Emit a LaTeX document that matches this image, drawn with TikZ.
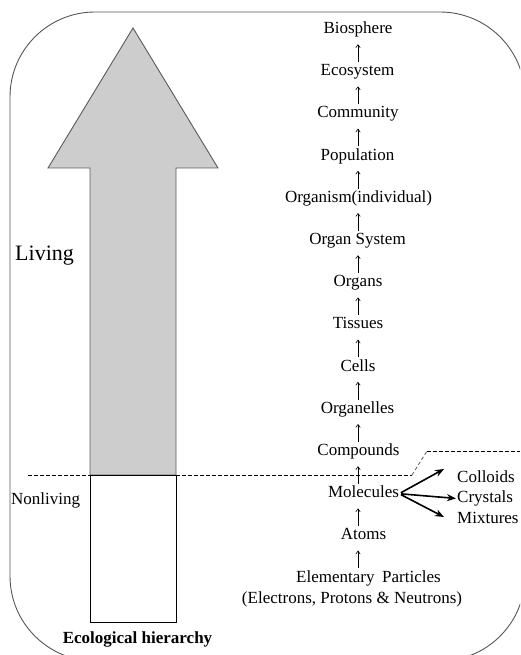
\documentclass[tikz,border=0pt]{standalone}
\usepackage{fontspec}
\setmainfont{Liberation Serif}
\usetikzlibrary{arrows.meta}
\definecolor{arrowgray}{HTML}{CDCDCD}
\definecolor{edgegray}{HTML}{5A5A5A}
\definecolor{framegray}{HTML}{555555}
\begin{document}
\begin{tikzpicture}[x=1pt,y=-1pt,
  lbl/.style={font=\fontsize{17}{20}\selectfont, inner sep=0pt, text height=12pt, text depth=4pt, anchor=base},
  side/.style={lbl, anchor=base west},
  uparrow/.style={-{Straight Barb[length=3pt,width=4.5pt]}, line width=0.6pt, shorten <=1.5pt, shorten >=6.5pt},
  bigarrow/.style={-{Stealth[length=9pt,width=7pt]}, line width=1.6pt, shorten <=2pt},
  sepline/.style={dash pattern=on 3.5pt off 2.5pt, line width=0.8pt}]
\useasboundingbox (0,0) rectangle (520,655);
% frame
\begin{scope}
  \clip (0,0) rectangle (520,655);
  \draw[framegray, line width=0.9pt, rounded corners=85pt] (10,12) rectangle (525,661);
\end{scope}
% dashed separator
\draw[sepline] (28,475) -- (90,475);
\draw[sepline] (176,475) -- (412,475);
\draw[sepline, edgegray] (412,475) -- (427,451);
\draw[sepline] (427,451) -- (520,451);
% big arrow
\draw[edgegray, fill=arrowgray, line width=0.9pt] (133,28) -- (218,168) -- (176,168) -- (176,475) -- (90,475) -- (90,168) -- (48,168) -- cycle;
\draw[black, fill=white, line width=0.8pt] (90,475) rectangle (176,622);
% left labels
\node[anchor=base west, inner sep=0pt, font=\fontsize{22}{26}\selectfont] (living) at (15,260) {Living};
\node[anchor=base west, inner sep=0pt, font=\fontsize{17}{20}\selectfont] (nonliving) at (11,504) {Nonliving};
\node[anchor=base, inner sep=0pt, font=\fontsize{17}{20}\selectfont\bfseries] (title) at (137.5,643) {Ecological hierarchy};
% column
\coordinate (col) at (358,0);
\node[lbl] (bio) at (358,33.5) {Biosphere};
\node[lbl] (eco) at (357.5,75.7) {Ecosystem};
\node[lbl] (com) at (358,117.9) {Community};
\node[lbl] (pop) at (357.5,160.1) {Population};
\node[lbl] (org) at (358.5,202.3) {Organism(individual)};
\node[lbl] (orgsys) at (357.5,244.5) {Organ System};
\node[lbl] (organs) at (358,286.7) {Organs};
\node[lbl] (tis) at (358,328.9) {Tissues};
\node[lbl] (cells) at (358,371.1) {Cells};
\node[lbl] (organelles) at (357.5,413.3) {Organelles};
\node[lbl] (comp) at (358.5,455.5) {Compounds};
\node[lbl] (mol) at (363.5,497.7) {Molecules};
\node[lbl] (atoms) at (363.5,539.9) {Atoms};
\node[lbl] (elem) at (368.5,582.1) {Elementary\hspace{0.45em}Particles};
\node[lbl] (elec) at (352,603.5) {(Electrons, Protons \& Neutrons)};
\foreach \lo/\hi in {eco/bio, com/eco, pop/com, org/pop, orgsys/org, organs/orgsys, tis/organs, cells/tis, organelles/cells, comp/organelles, mol/comp, atoms/mol, elem/atoms}
  \draw[uparrow] (\lo.north -| col) -- (\hi.south -| col);
% side products
\node[side] (coll) at (457,482) {Colloids};
\node[side] (cry) at (457,502.5) {Crystals};
\node[side] (mix) at (457,523) {Mixtures};
\draw[bigarrow] (mol.east) -- ([shift={(-13,-9)}]coll.west);
\draw[bigarrow, shorten >=1pt] (mol.east) -- (cry.west);
\draw[bigarrow] (mol.east) -- ([shift={(-13,-2)}]mix.west);
\end{tikzpicture}
\end{document}
